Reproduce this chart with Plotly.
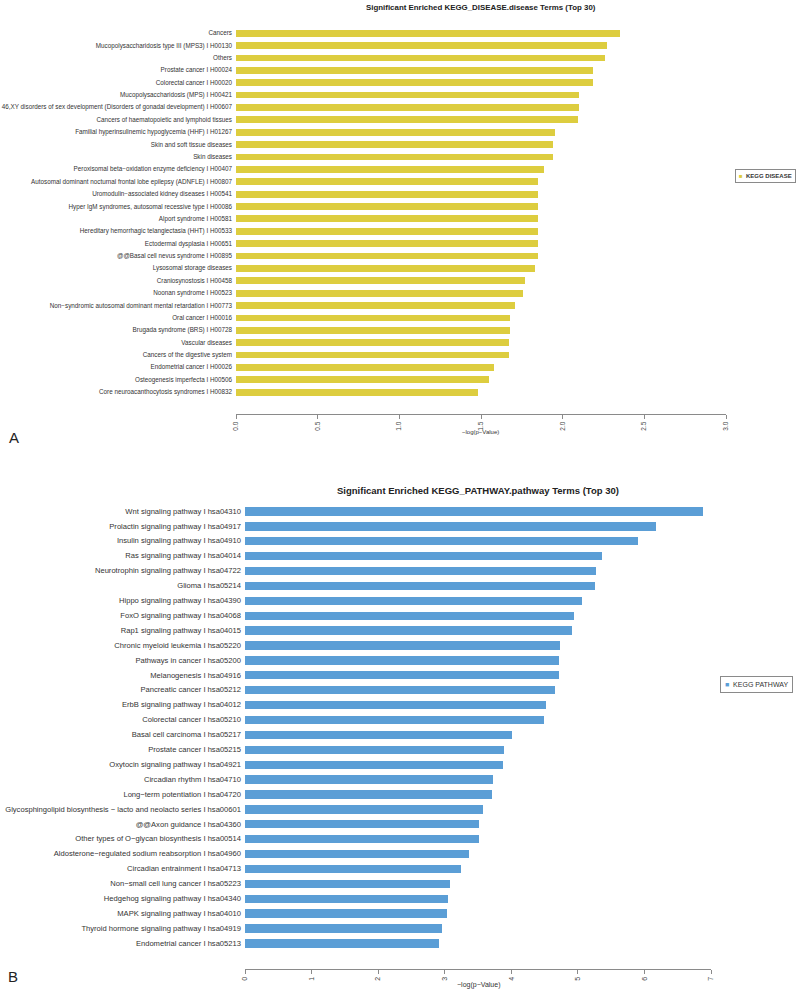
import plotly.graph_objects as go

W, H = 800, 992

disease_terms = [
    "Cancers",
    "Mucopolysaccharidosis type III (MPS3) I H00130",
    "Others",
    "Prostate cancer I H00024",
    "Colorectal cancer I H00020",
    "Mucopolysaccharidosis (MPS) I H00421",
    "46,XY disorders of sex development (Disorders of gonadal development) I H00607",
    "Cancers of haematopoietic and lymphoid tissues",
    "Familial hyperinsulinemic hypoglycemia (HHF) I H01267",
    "Skin and soft tissue diseases",
    "Skin diseases",
    "Peroxisomal beta−oxidation enzyme deficiency I H00407",
    "Autosomal dominant nocturnal frontal lobe epilepsy (ADNFLE) I H00807",
    "Uromodulin−associated kidney diseases I H00541",
    "Hyper IgM syndromes, autosomal recessive type I H00086",
    "Alport syndrome I H00581",
    "Hereditary hemorrhagic telangiectasia (HHT) I H00533",
    "Ectodermal dysplasia I H00651",
    "@@Basal cell nevus syndrome I H00895",
    "Lysosomal storage diseases",
    "Craniosynostosis I H00458",
    "Noonan syndrome I H00523",
    "Non−syndromic autosomal dominant mental retardation I H00773",
    "Oral cancer I H00016",
    "Brugada syndrome (BRS) I H00728",
    "Vascular diseases",
    "Cancers of the digestive system",
    "Endometrial cancer I H00026",
    "Osteogenesis imperfecta I H00506",
    "Core neuroacanthocytosis syndromes I H00832",
]
disease_values = [2.35, 2.27, 2.26, 2.185, 2.185, 2.10, 2.10, 2.096, 1.95, 1.94,
                  1.94, 1.884, 1.847, 1.847, 1.847, 1.847, 1.847, 1.847, 1.847, 1.83,
                  1.77, 1.76, 1.71, 1.68, 1.68, 1.67, 1.67, 1.58, 1.55, 1.48]

pathway_terms = [
    "Wnt signaling pathway I hsa04310",
    "Prolactin signaling pathway I hsa04917",
    "Insulin signaling pathway I hsa04910",
    "Ras signaling pathway I hsa04014",
    "Neurotrophin signaling pathway I hsa04722",
    "Glioma I hsa05214",
    "Hippo signaling pathway I hsa04390",
    "FoxO signaling pathway I hsa04068",
    "Rap1 signaling pathway I hsa04015",
    "Chronic myeloid leukemia I hsa05220",
    "Pathways in cancer I hsa05200",
    "Melanogenesis I hsa04916",
    "Pancreatic cancer I hsa05212",
    "ErbB signaling pathway I hsa04012",
    "Colorectal cancer I hsa05210",
    "Basal cell carcinoma I hsa05217",
    "Prostate cancer I hsa05215",
    "Oxytocin signaling pathway I hsa04921",
    "Circadian rhythm I hsa04710",
    "Long−term potentiation I hsa04720",
    "Glycosphingolipid biosynthesis − lacto and neolacto series I hsa00601",
    "@@Axon guidance I hsa04360",
    "Other types of O−glycan biosynthesis I hsa00514",
    "Aldosterone−regulated sodium reabsorption I hsa04960",
    "Circadian entrainment I hsa04713",
    "Non−small cell lung cancer I hsa05223",
    "Hedgehog signaling pathway I hsa04340",
    "MAPK signaling pathway I hsa04010",
    "Thyroid hormone signaling pathway I hsa04919",
    "Endometrial cancer I hsa05213",
]
pathway_values = [6.88, 6.18, 5.90, 5.37, 5.27, 5.26, 5.06, 4.94, 4.91, 4.73,
                  4.72, 4.71, 4.65, 4.52, 4.49, 4.01, 3.89, 3.87, 3.72, 3.71,
                  3.57, 3.52, 3.51, 3.36, 3.25, 3.08, 3.05, 3.04, 2.96, 2.91]

disease_ticks = [0, 0.5, 1.0, 1.5, 2.0, 2.5, 3.0]
disease_ticktext = ["0.0", "0.5", "1.0", "1.5", "2.0", "2.5", "3.0"]
pathway_ticks = [0, 1, 2, 3, 4, 5, 6, 7]

disease_series = "KEGG DISEASE"
pathway_series = "KEGG PATHWAY"

YELLOW = "#DDCD3F"
BLUE = "#5B9ED6"
FONT = "Liberation Sans, Arial, sans-serif"


def px_x(p):
    return p / W


def px_y(p):
    return 1 - p / H


fig = go.Figure()

fig.add_trace(go.Bar(
    x=disease_values, y=disease_terms, orientation="h",
    marker=dict(color=YELLOW, line=dict(width=0)), width=0.55,
    name=disease_series, xaxis="x", yaxis="y",
))
fig.add_trace(go.Bar(
    x=pathway_values, y=pathway_terms, orientation="h",
    marker=dict(color=BLUE, line=dict(width=0)), width=0.56,
    name=pathway_series, xaxis="x2", yaxis="y2",
))

# panel A geometry (pixels)
a_top, a_axis, a_step = 33 - 6.19, 414, 12.38
a_bottom_range = 29.5 + (a_axis - (392 + 6.19)) / a_step
b_top, b_axis, b_step = 511 - 7.45, 969, 14.9
b_bottom_range = 29.5 + (b_axis - (943 + 7.45)) / b_step

axis_common = dict(showgrid=False, zeroline=False, showline=True, linecolor="#8a8a8a",
                   linewidth=1, ticks="outside", ticklen=4, tickcolor="#8a8a8a",
                   tickangle=-90, fixedrange=True, automargin=False)

fig.update_layout(
    width=W, height=H,
    margin=dict(l=0, r=0, t=0, b=0, autoexpand=False),
    paper_bgcolor="white", plot_bgcolor="white",
    font=dict(family=FONT, color="#333333"),
    bargap=0,
    showlegend=False,
    xaxis=dict(domain=[px_x(236), px_x(726)], range=[0, 3], anchor="y",
               tickvals=disease_ticks, ticktext=disease_ticktext,
               tickfont=dict(size=6.5, color="#444444"), **axis_common),
    yaxis=dict(domain=[px_y(a_axis), px_y(a_top)], range=[a_bottom_range, -0.5],
               anchor="x", showgrid=False, zeroline=False, showline=False, ticks="",
               ticklabelstandoff=3, automargin=False,
               tickfont=dict(size=6.3, color="#333333"), fixedrange=True),
    xaxis2=dict(domain=[px_x(245), px_x(711)], range=[0, 7], anchor="y2",
                tickvals=pathway_ticks,
                tickfont=dict(size=7, color="#444444"), **axis_common),
    yaxis2=dict(domain=[px_y(b_axis), px_y(b_top)], range=[b_bottom_range, -0.5],
                anchor="x2", showgrid=False, zeroline=False, showline=False, ticks="",
                ticklabelstandoff=3, automargin=False,
                tickfont=dict(size=7.6, color="#333333"), fixedrange=True),
)

annotations = [
    dict(text="<b>Significant Enriched KEGG_DISEASE.disease Terms (Top 30)</b>",
         x=px_x(481), y=px_y(7), font=dict(size=7.9, color="#222222")),
    dict(text="<b>Significant Enriched KEGG_PATHWAY.pathway Terms (Top 30)</b>",
         x=px_x(478), y=px_y(491), font=dict(size=9.5, color="#222222")),
    dict(text="−log(p−Value)", x=px_x(481), y=px_y(432), font=dict(size=6, color="#333333")),
    dict(text="−log(p−Value)", x=px_x(478), y=px_y(985), font=dict(size=7, color="#333333")),
    dict(text="A", x=px_x(14), y=px_y(437), font=dict(size=15, color="#222222")),
    dict(text="B", x=px_x(13), y=px_y(976), font=dict(size=15, color="#222222")),
]
for a in annotations:
    fig.add_annotation(xref="paper", yref="paper", showarrow=False,
                       xanchor="center", yanchor="middle", **a)

# legend boxes
fig.add_annotation(
    xref="paper", yref="paper", showarrow=False, xanchor="left", yanchor="middle",
    x=px_x(735), y=px_y(176),
    text=f'<span style="color:{YELLOW}">■</span>  <b>{disease_series}</b>',
    font=dict(size=6, color="#333333"), bordercolor="#8a8a8a", borderwidth=1,
    borderpad=3, bgcolor="white",
)
fig.add_annotation(
    xref="paper", yref="paper", showarrow=False, xanchor="left", yanchor="middle",
    x=px_x(720), y=px_y(684),
    text=f'<span style="color:{BLUE}">■</span>  {pathway_series}',
    font=dict(size=7, color="#333333"), bordercolor="#8a8a8a", borderwidth=1,
    borderpad=4, bgcolor="white",
)

fig.write_html(
    "out.html",
    config={"displayModeBar": False},
    post_script="document.body.style.margin='0';document.body.style.overflow='hidden';",
)
